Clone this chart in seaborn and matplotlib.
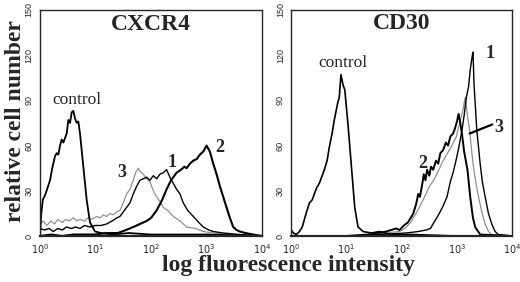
"""
     Flow cytometry histograms: CXCR4 and CD30
"""
import matplotlib
matplotlib.use('Agg')
import matplotlib.pyplot as plt
from matplotlib.ticker import FixedLocator, LogLocator, NullFormatter
import numpy as np
import pandas as pd
import seaborn as sns

# CXCR4 panel, x = log10(intensity), y = cell count
cx_ctrl_L = [0.00, 0.02, 0.05, 0.10, 0.18, 0.22, 0.27, 0.30, 0.33, 0.36, 0.39, 0.42, 0.48, 0.51, 0.54,
             0.57, 0.60, 0.63, 0.66, 0.69, 0.72, 0.78, 0.84, 0.90, 0.99, 1.10, 1.30, 1.60, 2.00, 3.00, 4.00]
cx_ctrl_c = [0, 14, 24, 28, 37, 45, 53, 55, 54, 60, 64, 62, 68, 77, 75,
             82, 83, 78, 75, 76, 68, 46, 24, 9, 3, 2, 1, 2, 1, 1, 0]
cx_3_L = [0.00, 0.06, 0.12, 0.20, 0.26, 0.32, 0.40, 0.46, 0.52, 0.60, 0.66, 0.72, 0.80, 0.86, 0.92, 1.02,
          1.08, 1.14, 1.20, 1.26, 1.32, 1.38, 1.44, 1.50, 1.56, 1.62, 1.68, 1.72, 1.77, 1.80, 1.86, 1.92,
          1.98, 2.04, 2.10, 2.16, 2.22, 2.30, 2.40, 2.52, 2.64, 2.80, 2.94, 3.12, 3.40, 4.00]
cx_3_c = [8, 10, 7, 10, 8, 11, 9, 11, 10, 12, 10, 11, 10, 12, 11, 13,
          12, 14, 13, 15, 14, 16, 17, 22, 28, 31, 37, 42, 45, 43, 41, 38,
          36, 30, 26, 23, 19, 17, 13, 10, 6, 5, 3, 2, 1, 0]
cx_1_L = [0.00, 0.08, 0.16, 0.24, 0.32, 0.40, 0.48, 0.56, 0.64, 0.72, 0.80, 0.90, 1.00, 1.10, 1.20, 1.30,
          1.38, 1.44, 1.52, 1.62, 1.68, 1.74, 1.80, 1.86, 1.92, 1.98, 2.04, 2.10, 2.16, 2.22, 2.28, 2.34,
          2.40, 2.46, 2.52, 2.58, 2.66, 2.76, 2.86, 2.94, 3.04, 3.12, 3.30, 3.60, 4.00]
cx_1_c = [5, 4, 5, 3, 5, 4, 6, 5, 6, 5, 7, 6, 7, 7, 8, 10,
          12, 13, 17, 22, 28, 33, 37, 38, 39, 37, 40, 38, 41, 42, 44, 39,
          35, 31, 28, 22, 17, 13, 9, 6, 4, 3, 2, 1, 0]
cx_2_L = [0.00, 0.20, 0.40, 0.60, 0.80, 1.00, 1.20, 1.40, 1.55, 1.68, 1.80, 1.92, 2.00, 2.10, 2.20,
          2.28, 2.36, 2.46, 2.54, 2.60, 2.64, 2.70, 2.76, 2.82, 2.88, 2.94, 3.00, 3.06, 3.12, 3.18, 3.24,
          3.30, 3.36, 3.42, 3.48, 3.54, 3.60, 3.70, 3.84, 4.00]
cx_2_c = [0, 1, 0, 1, 1, 1, 2, 2, 4, 6, 8, 10, 12, 17, 24,
          31, 37, 42, 44, 46, 45, 48, 50, 51, 54, 56, 60, 56, 48, 41, 33,
          26, 19, 12, 6, 4, 3, 2, 1, 0]

# CD30 panel
cd_ctrl_L = [0.00, 0.04, 0.09, 0.15, 0.20, 0.27, 0.33, 0.38, 0.42, 0.46, 0.51, 0.56, 0.60, 0.65, 0.69,
             0.74, 0.78, 0.84, 0.87, 0.90, 0.94, 0.97, 1.03, 1.09, 1.15, 1.21, 1.30, 1.45, 1.60, 1.80,
             2.20, 3.00, 4.00]
cd_ctrl_c = [4, 2, 1, 3, 6, 15, 22, 24, 28, 32, 35, 40, 44, 50, 59,
             68, 77, 88, 92, 107, 100, 97, 73, 46, 19, 6, 3, 2, 3, 1,
             1, 0, 0]
cd_2_L = [0.00, 1.00, 1.40, 1.72, 1.90, 1.96, 2.04, 2.11, 2.18, 2.21, 2.26, 2.30, 2.33, 2.37, 2.40,
          2.43, 2.46, 2.50, 2.53, 2.57, 2.62, 2.66, 2.70, 2.75, 2.80, 2.84, 2.88, 2.93, 2.97, 3.00,
          3.03, 3.06, 3.09, 3.13, 3.19, 3.24, 3.29, 3.33, 3.42, 4.00]
cd_2_c = [0, 0, 1, 3, 5, 4, 7, 9, 13, 15, 21, 28, 26, 34, 41,
          37, 44, 40, 46, 44, 50, 48, 55, 57, 62, 60, 66, 68, 72, 76,
          81, 75, 68, 56, 44, 26, 12, 6, 1, 0]
cd_3_L = [0.00, 1.00, 1.40, 1.70, 1.96, 2.06, 2.16, 2.26, 2.36, 2.44, 2.50, 2.58, 2.66, 2.75, 2.83,
          2.91, 2.99, 3.05, 3.11, 3.15, 3.19, 3.23, 3.29, 3.34, 3.39, 3.45, 3.51, 3.57, 3.63, 4.00]
cd_3_c = [0, 0, 1, 2, 3, 5, 9, 15, 22, 28, 33, 37, 43, 50, 55,
          60, 66, 75, 84, 92, 80, 70, 48, 36, 26, 16, 8, 3, 1, 0]
cd_1_L = [0.00, 1.00, 1.60, 2.08, 2.30, 2.44, 2.52, 2.60, 2.68, 2.75, 2.82, 2.88, 2.93, 2.97, 3.03,
          3.09, 3.13, 3.17, 3.21, 3.24, 3.27, 3.29, 3.31, 3.36, 3.42, 3.46, 3.51, 3.57, 3.63, 3.69, 3.75, 4.00]
cd_1_c = [0, 0, 1, 2, 3, 4, 5, 10, 15, 20, 26, 36, 42, 48, 58,
          70, 80, 92, 99, 110, 118, 122, 100, 70, 48, 36, 26, 15, 8, 3, 1, 0]

serif = ['Liberation Serif', 'DejaVu Serif']
sans = ['Liberation Sans', 'DejaVu Sans']

def draw_curve(ax, L, c, color, lw):
    df = pd.DataFrame({'x': np.power(10.0, L), 'y': c})
    sns.lineplot(data=df, x='x', y='y', ax=ax, color=color, linewidth=lw,
                 estimator=None, sort=False)

def setup_axes(ax, title, ty):
    ax.set_xscale('log')
    ax.set_xlim(1, 1e4)
    ax.set_ylim(0, 150)
    ax.set_xlabel('')
    ax.set_ylabel('')
    ax.xaxis.set_major_locator(FixedLocator([1, 10, 100, 1000, 10000]))
    ax.xaxis.set_minor_locator(LogLocator(base=10, subs=np.arange(2, 10), numticks=20))
    ax.xaxis.set_minor_formatter(NullFormatter())
    ax.set_xticklabels([r'$10^{0}$', r'$10^{1}$', r'$10^{2}$', r'$10^{3}$', r'$10^{4}$'])
    ax.yaxis.set_major_locator(FixedLocator([0, 30, 60, 90, 120, 150]))
    ax.yaxis.set_minor_locator(FixedLocator(list(range(0, 151, 6))))
    for lab in ax.get_yticklabels():
        lab.set_rotation(90)
        lab.set_va('center')
        lab.set_family(sans)
        lab.set_fontsize(6.5)
    for lab in ax.get_xticklabels():
        lab.set_fontsize(7)
    ax.tick_params(which='major', length=3, width=0.8, pad=1.5)
    ax.tick_params(which='minor', length=2, width=0.6)
    for sp in ax.spines.values():
        sp.set_linewidth(1.0)
        sp.set_visible(True)
    ax.spines['bottom'].set_linewidth(1.6)
    ax.text(0.5, ty, title, transform=ax.transAxes, ha='center', va='center',
            family=serif, fontweight='bold', fontsize=17)

sns.set_style('white')
plt.rcParams['font.family'] = sans
plt.rcParams['mathtext.fontset'] = 'dejavusans'

fig = plt.figure(figsize=(5.2, 2.82), dpi=100)
ax1 = fig.add_axes([0.077, 0.163, 0.427, 0.802])
ax2 = fig.add_axes([0.560, 0.163, 0.425, 0.802])

gray = '#8a8a8a'
draw_curve(ax1, cx_3_L, cx_3_c, gray, 0.85)
draw_curve(ax1, cx_1_L, cx_1_c, 'black', 1.0)
draw_curve(ax1, cx_2_L, cx_2_c, 'black', 1.5)
draw_curve(ax1, cx_ctrl_L, cx_ctrl_c, 'black', 1.3)
setup_axes(ax1, 'CXCR4', 0.935)

draw_curve(ax2, cd_3_L, cd_3_c, gray, 0.85)
draw_curve(ax2, cd_1_L, cd_1_c, 'black', 1.0)
draw_curve(ax2, cd_2_L, cd_2_c, 'black', 1.4)
draw_curve(ax2, cd_ctrl_L, cd_ctrl_c, 'black', 1.2)
setup_axes(ax2, 'CD30', 0.94)

lab_kw = dict(family=serif, fontweight='bold', fontsize=13, ha='center', va='center')
ax1.text(10 ** 0.67, 90, 'control', family=serif, fontsize=12.5, ha='center', va='center')
ax1.text(10 ** 1.48, 42, '3', **lab_kw)
ax1.text(10 ** 2.37, 49, '1', **lab_kw)
ax1.text(10 ** 3.24, 59, '2', **lab_kw)

ax2.text(10 ** 0.94, 115, 'control', family=serif, fontsize=12.5, ha='center', va='center')
ax2.text(10 ** 3.60, 121, '1', **lab_kw)
ax2.text(10 ** 3.76, 72, '3', **lab_kw)
ax2.text(10 ** 2.39, 48, '2', **lab_kw)
ax2.plot([10 ** 3.64, 10 ** 3.23], [74, 68], color='black', linewidth=1.6)

fig.text(0.03, 0.57, 'relative cell number', rotation=90, ha='center', va='center',
         family=serif, fontweight='bold', fontsize=17)
fig.text(0.555, 0.06, 'log fluorescence intensity', ha='center', va='center',
         family=serif, fontweight='bold', fontsize=17)

fig.savefig('out.png', dpi=100)
